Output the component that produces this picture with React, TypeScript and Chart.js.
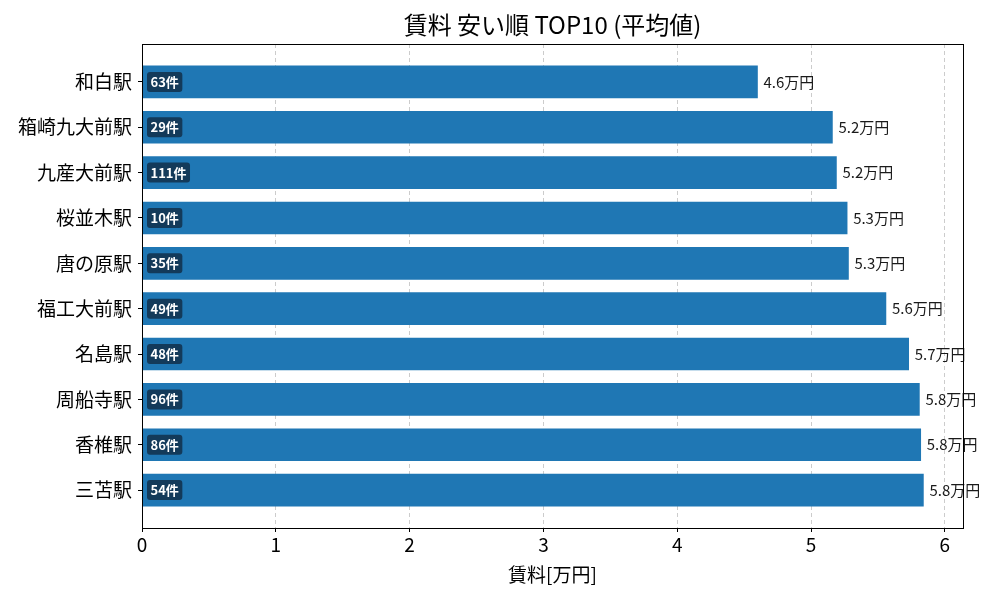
import { useEffect, useRef } from 'react';
import { Chart, registerables } from 'chart.js';

Chart.register(...registerables);

const stations = ['和白駅', '箱崎九大前駅', '九産大前駅', '桜並木駅', '唐の原駅', '福工大前駅', '名島駅', '周船寺駅', '香椎駅', '三苫駅'];
const rents = [4.6, 5.16, 5.19, 5.27, 5.28, 5.56, 5.73, 5.81, 5.82, 5.84];
const counts = [63, 29, 111, 10, 35, 49, 48, 96, 86, 54];
const xTicks = [0, 1, 2, 3, 4, 5, 6];

const FONT = '"Noto Sans CJK JP", "Noto Sans", sans-serif';

// 件数ボックスと賃料ラベル、外枠を描く
const labelPlugin = {
  id: 'barLabels',
  afterDatasetsDraw(chart: any) {
    const { ctx } = chart;
    const meta = chart.getDatasetMeta(0);
    ctx.save();
    meta.data.forEach((bar: any, i: number) => {
      const y = bar.y;
      // count box
      ctx.font = `bold 13px ${FONT}`;
      const txt = `${counts[i]}件`;
      const w = ctx.measureText(txt).width + 7;
      const bx = chart.scales.x.getPixelForValue(0) + 5;
      ctx.fillStyle = '#133a5a';
      ctx.beginPath();
      ctx.roundRect(bx, y - 10, w, 20, 3);
      ctx.fill();
      ctx.fillStyle = '#ffffff';
      ctx.textBaseline = 'middle';
      ctx.textAlign = 'left';
      ctx.fillText(txt, bx + 3.5, y);
      // value label
      ctx.font = `15px ${FONT}`;
      ctx.fillStyle = '#1a1a1a';
      ctx.fillText(`${rents[i].toFixed(1)}万円`, bar.x + 6, y);
    });
    ctx.restore();
  },
  afterDraw(chart: any) {
    const { ctx, chartArea: a } = chart;
    ctx.save();
    ctx.strokeStyle = '#000';
    ctx.lineWidth = 1;
    ctx.strokeRect(a.left + 0.5, a.top + 0.5, a.right - a.left, a.bottom - a.top);
    ctx.restore();
  },
};

export default function App() {
  const canvasRef = useRef<HTMLCanvasElement>(null);

  useEffect(() => {
    document.body.style.margin = '0';
    if (!canvasRef.current) return;
    const chart = new Chart(canvasRef.current, {
      type: 'bar',
      data: {
        datasets: [
          {
            data: rents.map((v, i) => ({ x: v, y: i })),
            backgroundColor: '#1f77b4',
            barThickness: 32,
          },
        ],
      },
      options: {
        indexAxis: 'y',
        animation: false,
        responsive: false,
        layout: { padding: { top: 44, right: 37, bottom: 0, left: 0 } },
        plugins: {
          legend: { display: false },
          tooltip: { enabled: false },
          title: { display: false },
        },
        scales: {
          x: {
            type: 'linear',
            min: 0,
            max: 6.136,
            afterBuildTicks: (s: any) => {
              s.ticks = xTicks.map((v) => ({ value: v }));
            },
            afterFit: (s: any) => {
              s.height = 72;
            },
            grid: {
              color: '#cccccc',
              tickColor: '#000',
              tickLength: 4,
              tickBorderDash: [],
            },
            border: { display: false, dash: [4, 3] },
            ticks: { color: '#000', font: { family: FONT, size: 19 }, padding: 1 },
            title: {
              display: true,
              text: '賃料[万円]',
              color: '#000',
              font: { family: FONT, size: 19 },
              padding: { top: 0, bottom: 14 },
            },
          },
          y: {
            type: 'linear',
            reverse: true,
            offset: false,
            min: -0.835,
            max: 9.835,
            afterBuildTicks: (s: any) => {
              s.ticks = stations.map((_, i) => ({ value: i }));
            },
            afterFit: (s: any) => {
              s.width = 142;
            },
            grid: { offset: false, drawOnChartArea: false, color: '#000', tickLength: 4 },
            border: { display: false },
            ticks: {
              color: '#000',
              font: { family: FONT, size: 19 },
              padding: 6,
              callback: (v: any) => stations[v] ?? '',
            },
          },
        },
      },
      plugins: [
        labelPlugin,
        {
          id: 'titleText',
          afterDraw(c: any) {
            const { ctx, chartArea: a } = c;
            ctx.save();
            ctx.font = `24px ${FONT}`;
            ctx.fillStyle = '#000';
            ctx.textAlign = 'center';
            ctx.textBaseline = 'middle';
            ctx.fillText('賃料 安い順 TOP10 (平均値)', (a.left + a.right) / 2, 25);
            ctx.restore();
          },
        },
      ],
    });
    return () => chart.destroy();
  }, []);

  return <canvas ref={canvasRef} width={1000} height={600} style={{ display: 'block' }} />;
}
